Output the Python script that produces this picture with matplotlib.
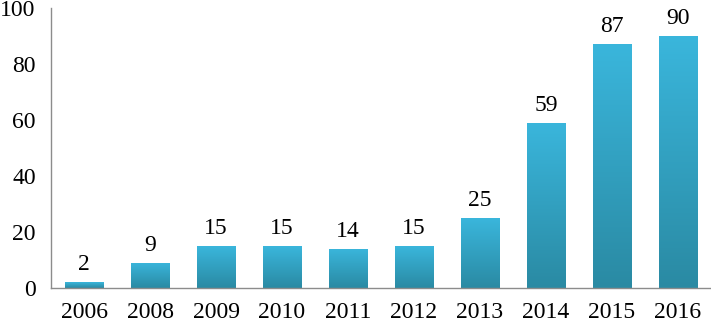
import numpy as np
import matplotlib.pyplot as plt
from matplotlib.colors import LinearSegmentedColormap

years = ["2006", "2008", "2009", "2010", "2011", "2012", "2013", "2014", "2015", "2016"]
counts = [2, 9, 15, 15, 14, 15, 25, 59, 87, 90]
y_ticks = [0, 20, 40, 60, 80, 100]

plt.rcParams["font.family"] = ["Liberation Serif", "DejaVu Serif"]

fig = plt.figure(figsize=(7.11, 3.23), dpi=100)
ax = fig.add_axes([51 / 711, 35 / 323, 660 / 711, 280 / 323])

x = np.arange(len(years))
bars = ax.bar(x, counts, width=0.59, color="none", edgecolor="none", zorder=2)

# vertical gradient inside each bar: lighter cyan on top, darker teal at the bottom
cmap = LinearSegmentedColormap.from_list("bar", ["#2a8aa3", "#3ab6dc"])
grad = np.linspace(0, 1, 256).reshape(-1, 1)
for bar in bars:
    x0, w, h = bar.get_x(), bar.get_width(), bar.get_height()
    im = ax.imshow(grad, cmap=cmap, origin="lower", aspect="auto",
                   extent=[x0, x0 + w, 0, h], zorder=2)
    im.set_clip_path(bar)

for xi, v in zip(x, counts):
    ax.annotate(str(v), (xi, v), xytext=(0, 5), textcoords="offset points",
                ha="center", va="bottom", fontsize=17)

ax.set_xlim(-0.5, len(years) - 0.5)
ax.set_ylim(0, 100)
ax.set_xticks(x)
ax.set_xticklabels(years)
ax.set_yticks(y_ticks)
ax.tick_params(axis="both", length=0, labelsize=17)
ax.tick_params(axis="y", pad=11)
ax.tick_params(axis="x", pad=10)

for side in ["top", "right"]:
    ax.spines[side].set_visible(False)
for side in ["left", "bottom"]:
    ax.spines[side].set_color("#8c8c8c")
    ax.spines[side].set_linewidth(1)

plt.savefig("out.png", dpi=100)
